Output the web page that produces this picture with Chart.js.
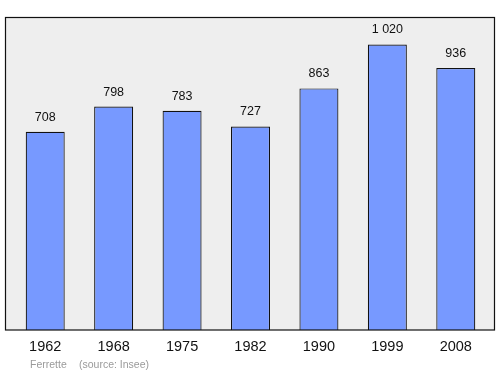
<!DOCTYPE html>
<html><head><meta charset="utf-8">
<script src="https://cdn.jsdelivr.net/npm/chart.js@4/dist/chart.umd.min.js"></script>
<style>html,body{margin:0;padding:0;background:#fff}#c{display:block}</style>
</head><body>
<div style="width:500px;height:374px"><canvas id="c" width="500" height="374"></canvas></div>
<script>
const years = ["1962","1968","1975","1982","1990","1999","2008"];
const population = [708,798,783,727,863,1020,936];
const valueLabels = ["708","798","783","727","863","1 020","936"];
const footerCommune = "Ferrette";
const footerSource = "(source: Insee)";

const FONT = '"Liberation Sans", Arial, sans-serif';

const decor = {
  id: 'decor',
  beforeDraw(chart) {
    const ctx = chart.ctx;
    ctx.save();
    ctx.fillStyle = '#eeeeee';
    ctx.fillRect(5.5, 17.5, 489, 312.5);
    ctx.restore();
  },
  afterDatasetsDraw(chart) {
    const ctx = chart.ctx;
    ctx.save();
    ctx.strokeStyle = '#111';
    ctx.lineWidth = 1.2;
    ctx.strokeRect(5.5, 17.5, 489, 312.5);
    const meta = chart.getDatasetMeta(0);
    const xs = chart.scales.x;
    ctx.fillStyle = '#111';
    ctx.textAlign = 'center';
    ctx.textBaseline = 'middle';
    ctx.font = '12.5px ' + FONT;
    meta.data.forEach((bar, i) => {
      ctx.fillText(valueLabels[i], bar.x, bar.y - 14.5);
    });
    ctx.font = '14.5px ' + FONT;
    years.forEach((y, i) => {
      ctx.fillText(y, xs.getPixelForValue(i), 347);
    });
    ctx.fillStyle = '#9a9a9a';
    ctx.font = '10.5px ' + FONT;
    ctx.textAlign = 'left';
    ctx.fillText(footerCommune, 30, 365);
    ctx.fillText(footerSource, 79, 365);
    ctx.restore();
  }
};

new Chart(document.getElementById('c'), {
  type: 'bar',
  data: {
    labels: years,
    datasets: [{
      data: population,
      backgroundColor: '#7799ff',
      borderColor: '#111',
      borderWidth: 1.2,
      borderSkipped: 'bottom',
      barPercentage: 0.57,
      categoryPercentage: 1
    }]
  },
  options: {
    responsive: false,
    animation: false,
    layout: { padding: { left: 11, right: 10, top: 17, bottom: 44 } },
    plugins: { legend: { display: false }, tooltip: { enabled: false } },
    scales: {
      x: { display: false, offset: true },
      y: { display: false, min: 0, max: 1118 }
    }
  },
  plugins: [decor]
});
</script>
</body></html>
